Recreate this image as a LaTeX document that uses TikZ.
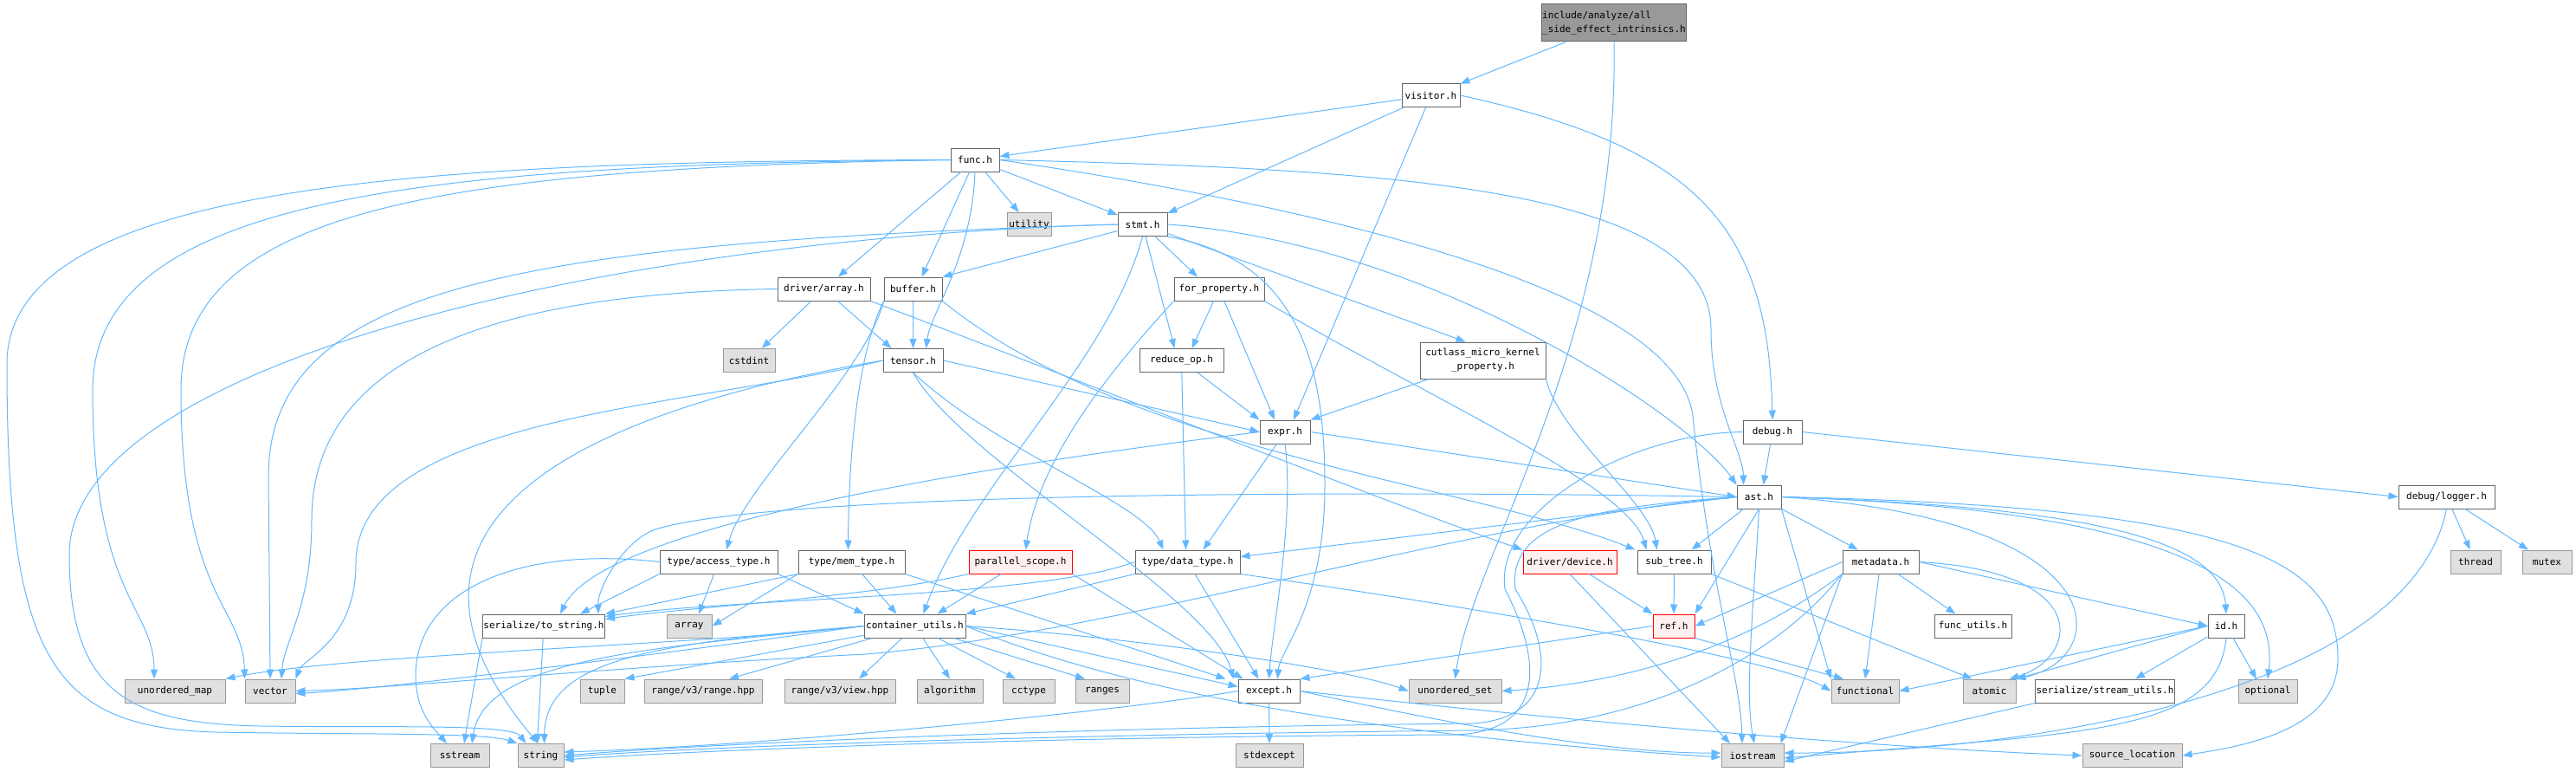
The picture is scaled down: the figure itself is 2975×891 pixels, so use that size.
\documentclass[tikz,border=0pt]{standalone}
\usepackage{fontspec}
\usepackage{xcolor}
\usepackage{tikz}
\usetikzlibrary{arrows.meta,calc}
\newfontfamily\graphfont{DejaVu Sans Mono}
\definecolor{edgeblue}{HTML}{63B8FF}
\definecolor{hdrline}{HTML}{666666}
\definecolor{sysline}{HTML}{999999}
\definecolor{sysfill}{HTML}{E0E0E0}
\definecolor{rootfill}{HTML}{999999}
\definecolor{warnfill}{HTML}{FFF0F0}

\begin{document}
\begin{tikzpicture}[x=1pt, y=-1pt,
  hdr/.style={rectangle, draw=hdrline, fill=white, line width=1pt, minimum height=27pt, inner sep=1pt, font=\graphfont\fontsize{11pt}{16pt}\selectfont},
  sys/.style={hdr, draw=sysline, fill=sysfill},
  warn/.style={hdr, draw=red, fill=warnfill},
  root/.style={hdr, fill=rootfill, minimum height=43pt, align=left},
  incl/.style={draw=edgeblue, line width=1pt, -{Triangle[length=11pt,width=8pt]}}]

  \useasboundingbox (0,0) rectangle (2975,891);

  % headers of the project
  \node[root, minimum width=164pt] (main) at (1864,26.5) {include/analyze/all\\\_side\_effect\_intrinsics.h};
  \node[hdr, minimum width=67pt] (visitor) at (1652.5,110) {visitor.h};
  \node[hdr, minimum width=56pt] (func) at (1126,184.5) {func.h};
  \node[hdr, minimum width=57pt] (stmt) at (1319.5,259) {stmt.h};
  \node[hdr, minimum width=107pt] (driverarray) at (951.5,333.5) {driver/array.h};
  \node[hdr, minimum width=67pt] (buffer) at (1054.5,333.5) {buffer.h};
  \node[hdr, minimum width=104pt] (forprop) at (1408,333.5) {for\_property.h};
  \node[hdr, minimum width=69pt] (tensor) at (1054.5,416) {tensor.h};
  \node[hdr, minimum width=97pt] (reduceop) at (1364.5,416) {reduce\_op.h};
  \node[hdr, minimum width=145pt, minimum height=42pt, align=center] (cutlass) at (1712.5,416) {cutlass\_micro\_kernel\\\_property.h};
  \node[hdr, minimum width=58pt] (expr) at (1484,498.5) {expr.h};
  \node[hdr, minimum width=68pt] (debug) at (2047,498.5) {debug.h};
  \node[hdr, minimum width=51pt] (ast) at (2031.5,573.5) {ast.h};
  \node[hdr, minimum width=111pt] (logger) at (2825.5,573.5) {debug/logger.h};
  \node[hdr, minimum width=136pt] (accesstype) at (830,648.5) {type/access\_type.h};
  \node[hdr, minimum width=123pt] (memtype) at (983.5,648.5) {type/mem\_type.h};
  \node[warn, minimum width=119pt] (parscope) at (1178.5,648.5) {parallel\_scope.h};
  \node[hdr, minimum width=121pt] (datatype) at (1371.5,648.5) {type/data\_type.h};
  \node[warn, minimum width=108pt] (device) at (1813,648.5) {driver/device.h};
  \node[hdr, minimum width=85pt] (subtree) at (1933.5,648.5) {sub\_tree.h};
  \node[hdr, minimum width=88pt] (metadata) at (2172,648.5) {metadata.h};
  \node[hdr, minimum width=136pt] (tostring) at (628,722.5) {serialize/to\_string.h};
  \node[hdr, minimum width=117pt] (containerutils) at (1056.5,722.5) {container\_utils.h};
  \node[warn, minimum width=48pt] (ref) at (1933,722.5) {ref.h};
  \node[hdr, minimum width=89pt] (funcutils) at (2278.5,722.5) {func\_utils.h};
  \node[hdr, minimum width=42pt] (id) at (2571,722.5) {id.h};
  \node[hdr, minimum width=71pt] (except) at (1465.5,797.5) {except.h};
  \node[hdr, minimum width=156pt] (streamutils) at (2431,797.5) {serialize/stream\_utils.h};

  % system headers
  \node[sys, minimum width=51pt] (utility) at (1188.5,259) {utility};
  \node[sys, minimum width=60pt] (cstdint) at (865,416) {cstdint};
  \node[sys, minimum width=58pt] (thread) at (2859,648.5) {thread};
  \node[sys, minimum width=57pt] (mutex) at (2941.5,648.5) {mutex};
  \node[sys, minimum width=52pt] (array) at (796,722.5) {array};
  \node[sys, minimum width=116pt] (unorderedmap) at (202,797.5) {unordered\_map};
  \node[sys, minimum width=58pt] (vector) at (312,797.5) {vector};
  \node[sys, minimum width=51pt] (tuple) at (695.5,797.5) {tuple};
  \node[sys, minimum width=136pt] (rangehpp) at (812,797.5) {range/v3/range.hpp};
  \node[sys, minimum width=128pt] (viewhpp) at (970,797.5) {range/v3/view.hpp};
  \node[sys, minimum width=76pt] (algorithm) at (1097,797.5) {algorithm};
  \node[sys, minimum width=60pt] (cctype) at (1188,797.5) {cctype};
  \node[sys, minimum width=62pt] (ranges) at (1273,797.5) {ranges};
  \node[sys, minimum width=107pt] (unorderedset) at (1680.5,797.5) {unordered\_set};
  \node[sys, minimum width=78pt] (functional) at (2154,797.5) {functional};
  \node[sys, minimum width=61pt] (atomic) at (2297.5,797.5) {atomic};
  \node[sys, minimum width=68pt] (optional) at (2619,797.5) {optional};
  \node[sys, minimum width=68pt] (sstream) at (531,872) {sstream};
  \node[sys, minimum width=53pt] (string) at (624.5,872) {string};
  \node[sys, minimum width=78pt] (stdexcept) at (1466,872) {stdexcept};
  \node[sys, minimum width=72pt] (iostream) at (2024,872) {iostream};
  \node[sys, minimum width=115pt] (sourceloc) at (2462.5,872) {source\_location};

  % main file
  \path[incl] (main) -- (visitor);
  \path[incl] (main.south) .. controls (1870,400) and (1700,640) .. (unorderedset.north);
  % visitor.h
  \path[incl] (visitor) -- (func);
  \path[incl] (visitor) -- (stmt);
  \path[incl] (visitor) -- ([xshift=10pt]expr.north);
  \path[incl] (visitor.east) .. controls (1960,170) and (2042,260) .. (debug.north);
  % func.h
  \path[incl] (func) -- (utility);
  \path[incl] (func) -- (stmt);
  \path[incl] (func) -- (driverarray);
  \path[incl] (func) -- ([xshift=10pt]buffer.north);
  \path[incl] (func.south) .. controls (1122,300) and (1075,360) .. ([xshift=15pt]tensor.north);
  \path[incl] (func.east) .. controls (1600,195) and (1976,215) .. (1976,380) .. controls (1976,470) and (2013,520) .. ([xshift=-18pt]ast.north);
  \path[incl] (func.east) .. controls (1500,235) and (1935,330) .. (1955,480) .. controls (1975,680) and (2010,780) .. ([xshift=-12pt]iostream.north);
  \path[incl] (func.west) .. controls (500,186) and (8,210) .. (8,420) .. controls (8,760) and (60,840) .. (250,845) .. controls (400,848) and (560,845) .. (string.north west);
  \path[incl] (func.west) .. controls (500,190) and (107,225) .. (107,450) .. controls (107,690) and (178,700) .. ([xshift=-24pt]unorderedmap.north);
  \path[incl] (func.west) .. controls (500,194) and (209,245) .. (209,450) .. controls (209,690) and (281,700) .. (vector.north west);
  % stmt.h
  \path[incl] (stmt) -- (buffer.north east);
  \path[incl] (stmt) -- ([xshift=-25pt]forprop.north);
  \path[incl] (stmt) -- ([xshift=-8pt]reduceop.north);
  \path[incl] (stmt) -- ([xshift=-20pt]cutlass.north);
  \path[incl] (stmt.south east) .. controls (1500,300) and (1530,420) .. (1530,560) .. controls (1530,700) and (1478,750) .. ([xshift=10pt]except.north);
  \path[incl] (stmt.south) .. controls (1280,420) and (1120,560) .. ([xshift=10pt]containerutils.north);
  \path[incl] (stmt.east) .. controls (1650,280) and (1950,480) .. (ast.north west);
  \path[incl] (stmt.west) .. controls (700,275) and (80,420) .. (80,640) .. controls (80,800) and (150,835) .. (300,838) .. controls (450,840) and (590,835) .. ([xshift=10pt]string.north west);
  \path[incl] (stmt.west) .. controls (600,280) and (310,330) .. (310,550) -- (vector.north);
  % driver/array.h
  \path[incl] (driverarray) -- (cstdint);
  \path[incl] (driverarray) -- ([xshift=-25pt]tensor.north);
  \path[incl] (driverarray.south east) .. controls (1250,440) and (1600,580) .. (device.north west);
  \path[incl] (driverarray.west) .. controls (600,338) and (360,400) .. (360,600) .. controls (360,700) and (328,740) .. ([xshift=13pt]vector.north);
  % buffer.h
  \path[incl] (buffer) -- (tensor);
  \path[incl] (buffer.south west) .. controls (1000,430) and (860,560) .. ([xshift=9pt]accesstype.north);
  \path[incl] (buffer.south west) .. controls (985,420) and (980,560) .. ([xshift=-4pt]memtype.north);
  \path[incl] (buffer.south east) .. controls (1300,520) and (1700,560) .. ([xshift=-45pt]subtree.north);
  % for_property.h
  \path[incl] (forprop.south west) .. controls (1280,430) and (1200,530) .. ([xshift=6pt]parscope.north);
  \path[incl] (forprop) -- ([xshift=12pt]reduceop.north);
  \path[incl] (forprop) -- ([xshift=-12pt]expr.north);
  \path[incl] (forprop.south east) .. controls (1650,460) and (1880,560) .. ([xshift=-32pt]subtree.north);
  % reduce_op.h
  \path[incl] (reduceop) -- (expr.north west);
  \path[incl] (reduceop) -- ([xshift=-2pt]datatype.north);
  % cutlass_micro_kernel_property.h
  \path[incl] (cutlass) -- (expr.north east);
  \path[incl] (cutlass.south east) .. controls (1800,500) and (1905,580) .. ([xshift=-20pt]subtree.north);
  % tensor.h
  \path[incl] (tensor.east) -- (expr.west);
  \path[incl] (tensor.south) .. controls (1150,520) and (1320,580) .. ([xshift=-28pt]datatype.north);
  \path[incl] (tensor.south) .. controls (1110,530) and (1400,690) .. ([xshift=-41pt]except.north);
  \path[incl] (tensor.west) .. controls (800,470) and (411,480) .. (411,650) .. controls (411,740) and (350,760) .. (vector.north east);
  \path[incl] (tensor.west) .. controls (760,460) and (380,570) .. ([xshift=-3pt]string.north);
  % expr.h
  \path[incl] (expr.east) -- (ast.west);
  \path[incl] (expr) -- ([xshift=18pt]datatype.north);
  \path[incl] (expr.south) .. controls (1495,600) and (1470,720) .. (except.north);
  \path[incl] (expr.west) .. controls (1200,530) and (700,600) .. ([xshift=19pt]tostring.north);
  % debug.h
  \path[incl] (debug) -- ([xshift=5pt]ast.north);
  \path[incl] (debug.east) -- (logger.west);
  \path[incl] (debug.west) .. controls (1880,500) and (1725,590) .. (1738,680) .. controls (1785,770) and (1780,845) .. (1680,848) .. controls (1200,850) and (800,866) .. ([yshift=-5pt]string.east);
  % debug/logger.h
  \path[incl] (logger) -- (thread);
  \path[incl] (logger) -- (mutex);
  \path[incl] (logger.south) .. controls (2780,810) and (2300,870) .. ([yshift=3pt]iostream.east);
  % ast.h
  \path[incl] (ast) -- (metadata);
  \path[incl] (ast.east) .. controls (2400,585) and (2565,620) .. (id.north);
  \path[incl] (ast.south) -- (ref.north east);
  \path[incl] (ast) -- ([xshift=20pt]subtree.north);
  \path[incl] (ast.west) -- ([yshift=6pt]datatype.east);
  \path[incl] (ast.west) .. controls (1500,565) and (900,570) .. (760,610) .. controls (720,622) and (690,680) .. ([xshift=-8pt]tostring.north east);
  \path[incl] (ast.west) .. controls (1700,600) and (1300,730) .. (1000,755) .. controls (700,770) and (450,795) .. (vector.east);
  \path[incl] (ast.south east) -- (functional.north west);
  \path[incl] (ast.east) .. controls (2450,600) and (2440,760) .. (atomic.north east);
  \path[incl] (ast.south) .. controls (2025,700) and (2015,800) .. ([xshift=2pt]iostream.north);
  \path[incl] (ast.east) .. controls (2560,590) and (2630,690) .. (optional.north);
  \path[incl] (ast.east) .. controls (2600,585) and (2700,650) .. (2700,760) .. controls (2700,840) and (2600,860) .. (sourceloc.east);
  \path[incl] (ast.west) .. controls (1850,585) and (1740,600) .. (1750,680) .. controls (1800,760) and (1790,830) .. (1700,835) .. controls (1200,840) and (800,860) .. (string.east);
  % metadata.h
  \path[incl] (metadata.west) -- (ref.east);
  \path[incl] (metadata) -- (funcutils);
  \path[incl] (metadata.east) -- (id.west);
  \path[incl] (metadata) -- (functional.north);
  \path[incl] (metadata.south west) -- ([xshift=-4pt]iostream.north east);
  \path[incl] (metadata.east) .. controls (2420,660) and (2400,760) .. ([xshift=-8pt]atomic.north east);
  \path[incl] (metadata.south west) .. controls (2000,760) and (1850,790) .. (unorderedset.east);
  \path[incl] (metadata.south west) .. controls (2050,760) and (1900,840) .. (1700,843) .. controls (1200,848) and (800,862) .. ([yshift=-2pt]string.east);
  % id.h
  \path[incl] (id.west) -- (functional.east);
  \path[incl] (id.west) -- (atomic.north east);
  \path[incl] (id) -- ([xshift=35pt]streamutils.north);
  \path[incl] (id) -- ([xshift=-13pt]optional.north);
  \path[incl] (id.south) .. controls (2560,850) and (2400,845) .. ([yshift=-3pt]iostream.east);
  % serialize/stream_utils.h
  \path[incl] (streamutils.south west) -- ([yshift=-7pt]iostream.east);
  % ref.h, sub_tree.h, driver/device.h
  \path[incl] (ref.south east) -- ([xshift=-25pt]functional.north);
  \path[incl] (ref.west) -- (except.north east);
  \path[incl] (subtree) -- (ref);
  \path[incl] (subtree.south east) -- ([xshift=-20pt]atomic.north);
  \path[incl] (device) -- (ref.north west);
  \path[incl] (device.south) -- ([xshift=-26pt]iostream.north);
  % type headers
  \path[incl] (accesstype.south west) -- ([xshift=42pt]tostring.north);
  \path[incl] (accesstype) -- ([xshift=11pt]array.north);
  \path[incl] (accesstype.south east) -- (containerutils.north west);
  \path[incl] (accesstype.west) .. controls (600,630) and (480,680) .. (480,780) .. controls (480,820) and (500,840) .. ([xshift=-15pt]sstream.north);
  \path[incl] (memtype.south west) -- (tostring.north east);
  \path[incl] (memtype.south west) -- (array.east);
  \path[incl] (memtype) -- ([xshift=-21pt]containerutils.north);
  \path[incl] (memtype.south east) -- ([xshift=-50pt]except.north);
  \path[incl] (parscope.south west) .. controls (1000,690) and (800,700) .. ([yshift=8pt]tostring.east);
  \path[incl] (parscope) -- ([xshift=26pt]containerutils.north);
  \path[incl] (parscope.south east) -- ([xshift=-30pt]except.north);
  \path[incl] (datatype.south west) -- (containerutils.north east);
  \path[incl] (datatype) -- ([xshift=-12pt]except.north);
  \path[incl] (datatype.south east) .. controls (1700,700) and (2050,760) .. (functional.west);
  \path[incl] (datatype.west) .. controls (1200,690) and (850,690) .. ([yshift=11pt]tostring.east);
  % container_utils.h
  \path[incl] (containerutils.west) .. controls (800,745) and (400,755) .. (unorderedmap.north east);
  \path[incl] (containerutils.west) .. controls (800,750) and (450,795) .. ([yshift=-3pt]vector.east);
  \path[incl] (containerutils) -- (tuple.north east);
  \path[incl] (containerutils) -- ([xshift=30pt]rangehpp.north);
  \path[incl] (containerutils) -- ([xshift=22pt]viewhpp.north);
  \path[incl] (containerutils) -- (algorithm.north);
  \path[incl] (containerutils) -- ([xshift=-15pt]cctype.north);
  \path[incl] (containerutils) -- ([xshift=-20pt]ranges.north);
  \path[incl] (containerutils.west) .. controls (760,742) and (630,760) .. ([xshift=4pt]string.north);
  \path[incl] (containerutils.west) .. controls (750,748) and (560,760) .. ([xshift=14pt]sstream.north);
  \path[incl] (containerutils.east) -- ([yshift=5pt]except.west);
  \path[incl] (containerutils.east) .. controls (1300,735) and (1550,770) .. (unorderedset.west);
  \path[incl] (containerutils.east) .. controls (1300,800) and (1600,850) .. ([yshift=-2pt]iostream.west);
  % except.h
  \path[incl] (except) -- (stdexcept);
  \path[incl] (except.west) .. controls (1300,820) and (900,860) .. ([yshift=4pt]string.east);
  \path[incl] (except.east) .. controls (1700,820) and (2100,860) .. (sourceloc.west);
  \path[incl] (except.east) .. controls (1650,830) and (1850,870) .. ([yshift=3pt]iostream.west);
  % serialize/to_string.h
  \path[incl] (tostring) -- ([xshift=-4pt]string.north);
  \path[incl] (tostring.south west) -- ([xshift=5pt]sstream.north);
\end{tikzpicture}
\end{document}
